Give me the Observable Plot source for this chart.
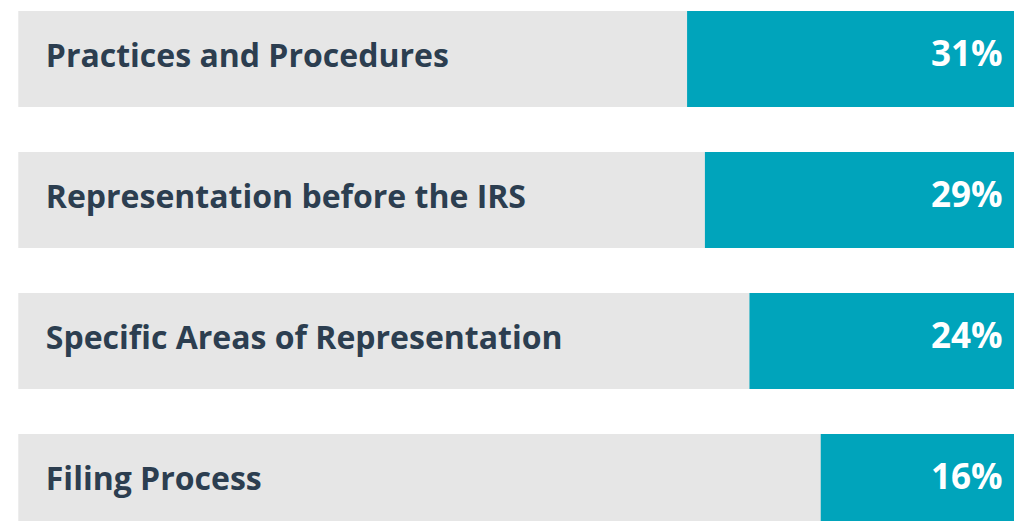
<!DOCTYPE html>
<html>
<head>
<meta charset="utf-8">
<script src="https://cdn.jsdelivr.net/npm/d3@7"></script>
<script src="https://cdn.jsdelivr.net/npm/@observablehq/plot@0.6"></script>
<style>
  html, body { margin: 0; padding: 0; background: #ffffff; }
  #chart svg { display: block; }
</style>
</head>
<body>
<div id="chart"></div>
<script>
const categories = ["Practices and Procedures", "Representation before the IRS", "Specific Areas of Representation", "Filing Process"];
const values = [31, 29, 24, 16];
const valueLabels = ["31%", "29%", "24%", "16%"];

const data = categories.map((c, i) => ({category: c, value: values[i], label: valueLabels[i]}));

const xMax = 106.06, xMin = -5.69;

const chart = Plot.plot({
  width: 1014,
  height: 521,
  marginTop: 0, marginBottom: 0, marginLeft: 0, marginRight: 0,
  style: {background: "transparent"},
  x: {domain: [xMax, xMin], range: [18.3, 1014], axis: null},
  y: {domain: categories, range: [10, 530], paddingInner: 0.32, paddingOuter: 0, axis: null},
  marks: [
    Plot.rect(data, {y: "category", x1: () => xMax, x2: () => xMin, fill: "#e6e6e6"}),
    Plot.rect(data, {y: "category", x1: "value", x2: () => xMin, fill: "#00a4bb"}),
    Plot.text(data, {y: "category", x: () => xMax, dx: 27, dy: -2.5, text: "category", textAnchor: "start",
      fill: "#2c3e50", fontSize: 32, fontWeight: 700, fontFamily: "'Open Sans'"}),
    Plot.text(data, {y: "category", x: () => xMin, dx: -12, dy: -5, text: "label", textAnchor: "end",
      fill: "#ffffff", fontSize: 35, fontWeight: 700, fontFamily: "'Open Sans'"})
  ]
});
document.getElementById("chart").appendChild(chart);
</script>
</body>
</html>
